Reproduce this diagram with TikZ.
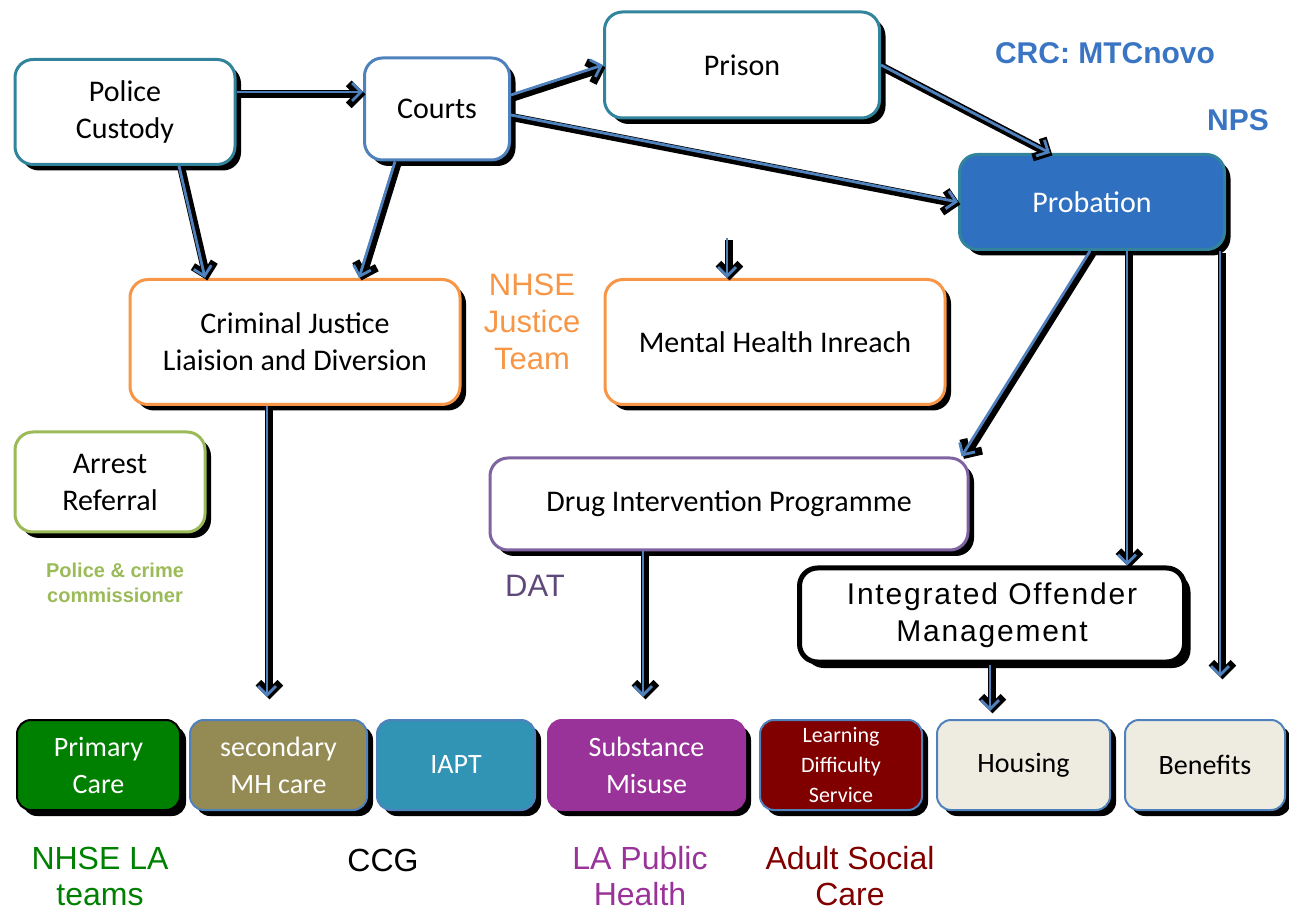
\documentclass[tikz,border=0pt]{standalone}
\usepackage{fontspec}
\setmainfont{Carlito}
\newfontfamily\arialfont{Liberation Sans}
\newfontfamily\iomfont[LetterSpace=6]{Liberation Sans}
\usetikzlibrary{arrows.meta,shadows}

\definecolor{tealline}{HTML}{31849B}
\definecolor{blueline}{HTML}{4F81BD}
\definecolor{orangeline}{HTML}{F79646}
\definecolor{greenline}{HTML}{9BBB59}
\definecolor{purpleline}{HTML}{8064A2}
\definecolor{probblue}{HTML}{3070C0}
\definecolor{crcblue}{HTML}{3A75C4}
\definecolor{primgreen}{HTML}{008000}
\definecolor{olive}{HTML}{948A54}
\definecolor{iaptteal}{HTML}{3194B5}
\definecolor{smpurple}{HTML}{993399}
\definecolor{maroon}{HTML}{800000}
\definecolor{beige}{HTML}{EEECE1}
\definecolor{datpurple}{HTML}{5F497A}

\begin{document}
\begin{tikzpicture}[
    x=0.5pt, y=-0.5pt,
    box/.style={
        rectangle,
        draw=tealline,
        fill=white,
        line width=1.5pt,
        rounded corners=9pt,
        font=\fontsize{15}{18.5}\selectfont,
        align=center,
        drop shadow={shadow xshift=3pt, shadow yshift=-3pt, fill=black, opacity=1}
    },
    service/.style={
        rectangle,
        draw=blueline,
        line width=1pt,
        rounded corners=7pt,
        minimum height=45pt,
        text=white,
        font=\fontsize{14}{18.5}\selectfont,
        align=center,
        drop shadow={shadow xshift=3pt, shadow yshift=-3pt, fill=black, opacity=1}
    },
    owner/.style={
        font=\arialfont\fontsize{15.5}{18.5}\selectfont,
        align=center
    },
    arrow/.style={
        draw=blueline, line width=1.4pt,
        -{Straight Barb[length=4.5pt,width=9pt]},
        preaction={draw=black, line width=4pt,
            -{Straight Barb[length=5.5pt,width=11pt]},
            transform canvas={xshift=1.2pt,yshift=-1.2pt}}
    },
]
\useasboundingbox (0,0) rectangle (1289,913);

% === TOP ROW ===
\node[box, minimum width=110pt, minimum height=52.5pt] (police) at (125,112)
{Police\\Custody};
\node[box, draw=blueline, minimum width=72.5pt, minimum height=51pt] (courts) at (437,109)
{Courts};
\node[box, minimum width=137.5pt, minimum height=53pt] (prison) at (742,65)
{Prison};
\node[box, draw=tealline, fill=probblue, text=white, minimum width=132.5pt,
      minimum height=47.5pt] (probation) at (1092,202) {Probation};

\node[font=\arialfont\bfseries\fontsize{15}{18}\selectfont, text=crcblue] (crc) at (1105,53) {CRC: MTCnovo};
\node[font=\arialfont\bfseries\fontsize{15}{18}\selectfont, text=crcblue] (nps) at (1238,120) {NPS};

% === MIDDLE ===
\node[box, draw=orangeline, minimum width=165pt, minimum height=62.5pt] (cjld) at (295,342)
{Criminal Justice\\Liaision and Diversion};
\node[owner, text=orangeline] (nhsej) at (532,322) {NHSE\\Justice\\Team};
\node[box, draw=orangeline, minimum width=170pt, minimum height=62.5pt] (mhi) at (775,342)
{Mental Health Inreach};

\node[box, draw=greenline, minimum width=95pt, minimum height=50pt] (arrest) at (110,482)
{Arrest\\Referral};
\node[font=\arialfont\bfseries\fontsize{10}{12.5}\selectfont, text=greenline, align=center] (pcc) at (115,583)
{Police \& crime\\commissioner};

\node[box, draw=purpleline, minimum width=239pt, minimum height=46pt] (dip) at (729,504)
{Drug Intervention Programme};
\node[owner, text=datpurple] (dat) at (535,586) {DAT};

\node[box, draw=black, line width=2.5pt, minimum width=192.5pt, minimum height=47pt,
      font=\iomfont\fontsize{15}{18.5}\selectfont] (iom) at (992,615)
{Integrated Offender\\Management};

% === SERVICES ===
\node[service, draw=black, fill=primgreen, minimum width=81.5pt] (primary) at (98.5,765) {Primary\\Care};
\node[service, fill=olive, minimum width=88.5pt] (secondary) at (278.5,765) {secondary\\MH care};
\node[service, fill=iaptteal, minimum width=79pt] (iapt) at (456,765) {IAPT};
\node[service, draw=smpurple, fill=smpurple, minimum width=98.5pt] (substance) at (646.5,765) {Substance\\Misuse};
\node[service, fill=maroon, minimum width=81pt, font=\fontsize{11}{15}\selectfont] (learning) at (841,765)
{Learning\\Difficulty\\Service};
\node[service, fill=beige, text=black, minimum width=86.5pt] (housing) at (1023.5,765) {Housing};
\node[service, fill=beige, text=black, minimum width=80pt] (benefits) at (1205,765) {Benefits};

% commissioners
\node[owner, text=primgreen, font=\arialfont\fontsize{16}{18}\selectfont] (nhsela) at (100,876) {NHSE LA\\teams};
\node[owner, font=\arialfont\fontsize{16}{18}\selectfont] (ccg) at (383,860) {CCG};
\node[owner, text=smpurple, font=\arialfont\fontsize{16}{18}\selectfont] (laph) at (640,876) {LA Public\\Health};
\node[owner, text=maroon, font=\arialfont\fontsize{16}{18}\selectfont] (asc) at (850,876) {Adult Social\\Care};

% Arrows
\coordinate (prisonout) at (727,238);

\draw[arrow] ([yshift=10pt]police.east) -- ([yshift=10pt]police.east -| courts.west);
\draw[arrow] ([yshift=7pt]courts.east) -- (prison.west);
\draw[arrow] ([yshift=-3pt]courts.east) -- (probation.west);
\draw[arrow] (prison.east) -- ([xshift=-21pt]probation.north);

\draw[arrow] ([xshift=27pt]police.south) -- ([xshift=-45pt]cjld.north);
\draw[arrow] ([xshift=-21pt]courts.south) -- ([xshift=32pt]cjld.north);
\draw[arrow] (prisonout) -- (prisonout |- mhi.north);

\draw[arrow] ([xshift=-14pt]cjld.south) -- ([xshift=-5.75pt,yshift=11pt]secondary.north);

\draw[arrow] ([xshift=-1pt]probation.south) -- ([xshift=-4pt]dip.north east);
\draw[arrow] ([xshift=17.5pt]probation.south) -- ([xshift=17.5pt]probation.south |- iom.north);
\draw[arrow] ([xshift=64pt]probation.south) -- ([xshift=7.5pt,yshift=21pt]benefits.north);

\draw[arrow] ([xshift=-43pt]dip.south) -- ([xshift=-1.75pt,yshift=11pt]substance.north);
\draw[arrow] ([xshift=-1pt]iom.south) -- ([xshift=-16.75pt,yshift=4pt]housing.north);

\end{tikzpicture}
\end{document}
